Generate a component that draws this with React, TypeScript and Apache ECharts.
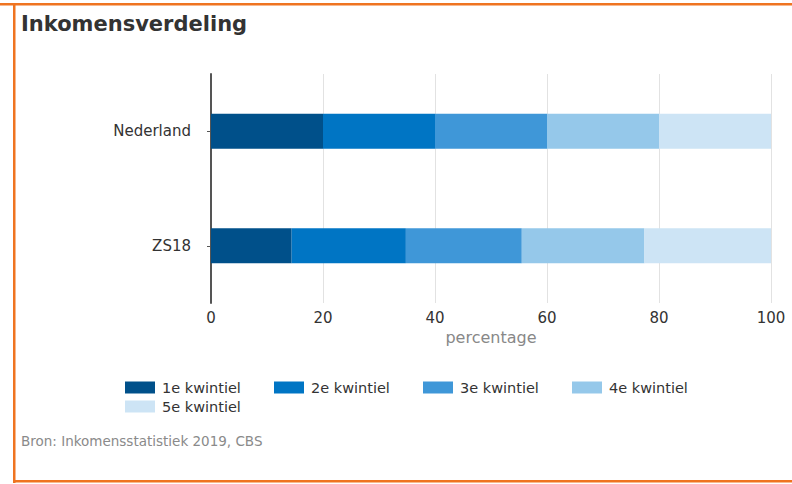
import React, { useEffect, useRef } from "react";
import * as echarts from "echarts";

const categories = ["Nederland", "ZS18"];
const seriesNames = ["1e kwintiel", "2e kwintiel", "3e kwintiel", "4e kwintiel", "5e kwintiel"];
const q1 = [20, 14.4];
const q2 = [20, 20.4];
const q3 = [20, 20.7];
const q4 = [20, 21.9];
const q5 = [20, 22.6];
const colors = ["#00508a", "#0075c4", "#3f97d8", "#95c8ea", "#cde4f5"];
const xTicks = { min: 0, max: 100, interval: 20 };

const FONT = "DejaVu Sans, Verdana, sans-serif";

export default function App() {
  const ref = useRef<HTMLDivElement>(null);
  useEffect(() => {
    if (!ref.current) return;
    const chart = echarts.init(ref.current, undefined, { renderer: "svg" });
    const values = [q1, q2, q3, q4, q5];
    chart.setOption({
      animation: false,
      backgroundColor: "#ffffff",
      textStyle: { fontFamily: FONT },
      graphic: [
        { type: "rect", shape: { x: 0, y: 3, width: 792, height: 2.5 }, style: { fill: "#ef7421" } },
        { type: "rect", shape: { x: 13, y: 3, width: 2.5, height: 480 }, style: { fill: "#ef7421" } },
        { type: "rect", shape: { x: 13, y: 480, width: 779, height: 2.5 }, style: { fill: "#ef7421" } },
        {
          type: "text",
          left: 21,
          top: 13,
          style: { text: "Inkomensverdeling", font: `bold 21px ${FONT}`, fill: "#333333" },
        },
        {
          type: "text",
          left: 21,
          top: 434,
          style: { text: "Bron: Inkomensstatistiek 2019, CBS", font: `13.5px ${FONT}`, fill: "#8a8a8a" },
        },
      ],
      grid: { left: 211, right: 21, top: 74, bottom: 181 },
      legend: {
        left: 125,
        top: 380,
        width: 600,
        padding: 0,
        icon: "rect",
        itemWidth: 30,
        itemHeight: 12,
        itemGap: 4,
        textStyle: { fontFamily: FONT, fontSize: 14.5, color: "#333333", width: 108, lineHeight: 14, padding: [0, 0, 0, 2] },
        data: seriesNames,
      },
      xAxis: {
        type: "value",
        min: xTicks.min,
        max: xTicks.max,
        interval: xTicks.interval,
        name: "percentage",
        nameLocation: "middle",
        nameGap: 26,
        nameTextStyle: { color: "#888888", fontSize: 16, fontFamily: FONT },
        axisLine: { show: false },
        axisTick: { show: false },
        axisLabel: { color: "#333333", fontSize: 15, margin: 7, fontFamily: FONT },
        splitLine: { show: true, lineStyle: { color: "#e2e2e2", width: 1 } },
      },
      yAxis: {
        type: "category",
        data: categories,
        inverse: true,
        axisLine: { show: true, lineStyle: { color: "#555555", width: 2 } },
        axisTick: { show: true, alignWithLabel: true, length: 4, lineStyle: { color: "#555555" } },
        axisLabel: { color: "#333333", fontSize: 15, margin: 20, fontFamily: FONT },
        splitLine: { show: false },
      },
      series: seriesNames.map((name, i) => ({
        name,
        type: "bar",
        stack: "total",
        barWidth: 35,
        data: values[i],
        itemStyle: { color: colors[i] },
      })),
    });
    return () => chart.dispose();
  }, []);
  return (
    <div
      ref={ref}
      style={{ position: "fixed", left: 0, top: 0, width: 792, height: 484 }}
    />
  );
}
